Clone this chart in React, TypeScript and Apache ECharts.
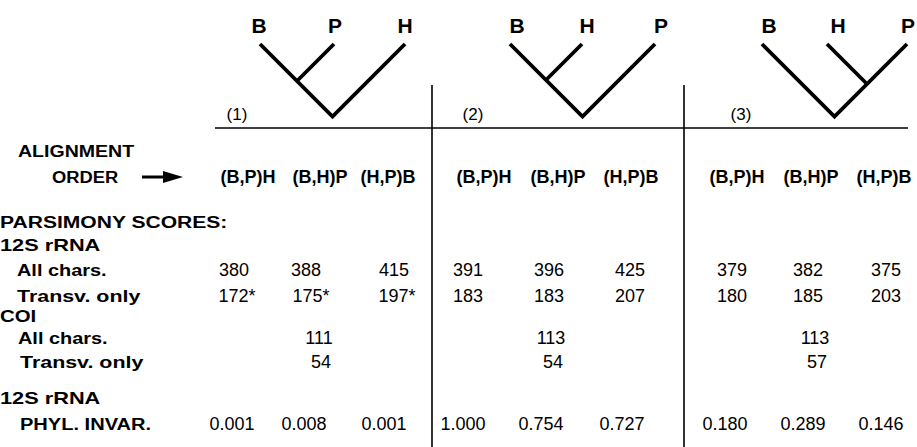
import React, { useEffect, useRef } from "react";
import * as echarts from "echarts";

// ---------- data ----------
const taxaOrders = [
  ["B", "P", "H"],
  ["B", "H", "P"],
  ["B", "H", "P"],
];
const sisterPairs = [
  [0, 1],
  [0, 1],
  [1, 2],
];
const panelNames = ["(1)", "(2)", "(3)"];
const alignmentOrders = ["(B,P)H", "(B,H)P", "(H,P)B"];
const rRNAAllChars = [
  [380, 388, 415],
  [391, 396, 425],
  [379, 382, 375],
];
const rRNATransvOnly = [
  [172, 175, 197],
  [183, 183, 207],
  [180, 185, 203],
];
const rRNATransvStarred = [
  [true, true, true],
  [false, false, false],
  [false, false, false],
];
const coiAllChars = [111, 113, 113];
const coiTransvOnly = [54, 54, 57];
const phylInvar = [
  [0.001, 0.008, 0.001],
  [1.0, 0.754, 0.727],
  [0.18, 0.289, 0.146],
];
const rowLabels = [
  "ALIGNMENT",
  "ORDER",
  "PARSIMONY SCORES:",
  "12S rRNA",
  "All chars.",
  "Transv. only",
  "COI",
  "All chars.",
  "Transv. only",
  "12S rRNA",
  "PHYL. INVAR.",
];

// ---------- layout ----------
const W = 917;
const H = 447;
const tipX = [
  [260, 334, 405],
  [510, 582, 655],
  [762, 827, 907],
];
const tipTop = 44;
const tipLabelX = [
  [259, 335, 405],
  [517, 587, 661],
  [769, 838, 908],
];
const tipLabelY = 25;
const panelLabelX = [237, 473, 741];
const panelLabelY = 114;
const headerX = [
  [248, 320, 388],
  [484, 558, 631],
  [737, 811, 884],
];
const allCharsX = [
  [234, 306, 394],
  [468, 549, 630],
  [732, 808, 886],
];
const transvX = [
  [237, 311, 397],
  [468, 549, 630],
  [732, 808, 886],
];
const coiAllX = [319, 551, 815];
const coiTransvX = [321, 553, 817];
const phylX = [
  [232, 304, 384],
  [463, 541, 622],
  [725, 803, 881],
];
const rowY = [151, 177, 222, 245, 270, 296, 316, 338, 362, 398, 424];
const rowLabelX = [18, 52, 0, 0, 17, 17, 0, 18, 20, 0, 20];
const rowLabelScale = [1.15, 1.08, 1.24, 1.28, 1.17, 1.26, 1.2, 1.17, 1.26, 1.28, 1.18];
const INK = "#000";
const FONT = "'Liberation Sans', Arial, Helvetica, sans-serif";

type Pt = { x: number; y: number; text: string };

function textSeries(id: string, pts: Pt[], fontSize: number, fontWeight: string) {
  return {
    id,
    type: "scatter",
    symbol: "circle",
    symbolSize: 0,
    itemStyle: { color: INK, opacity: 1 },
    silent: true,
    data: pts.map((p) => ({ name: p.text, value: [p.x, p.y] })),
    label: {
      show: true,
      position: "inside",
      formatter: "{b}",
      color: INK,
      opacity: 1,
      fontFamily: FONT,
      fontSize,
      fontWeight,
      textBorderWidth: 0,
    },
    z: 5,
  };
}

function buildOption() {
  const series: any[] = [];

  // cladograms
  taxaOrders.forEach((taxa, t) => {
    const xs = tipX[t];
    const a = xs[0];
    const c = xs[2];
    const root = [(a + c) / 2, tipTop + (c - a) / 2];
    const [i, j] = sisterPairs[t];
    const inner = [(xs[i] + xs[j]) / 2, tipTop + (xs[j] - xs[i]) / 2];
    const mid = xs[1];
    const lineStyle = { color: INK, width: 3.8, cap: "butt", join: "miter" };
    series.push({
      type: "line",
      data: [[a, tipTop], root, [c, tipTop]],
      symbol: "none",
      lineStyle,
      silent: true,
    });
    series.push({
      type: "line",
      data: [[mid, tipTop], inner],
      symbol: "none",
      lineStyle,
      silent: true,
    });
  });

  // taxa labels
  const taxaPts: Pt[] = [];
  taxaOrders.forEach((taxa, t) =>
    taxa.forEach((name, k) => taxaPts.push({ x: tipLabelX[t][k], y: tipLabelY, text: name }))
  );
  series.push(textSeries("taxa", taxaPts, 21, "bold"));

  // panel names
  series.push(
    textSeries(
      "panels",
      panelNames.map((p, t) => ({ x: panelLabelX[t], y: panelLabelY, text: p })),
      17,
      "normal"
    )
  );

  // headers
  const hdr: Pt[] = [];
  for (let t = 0; t < 3; t++)
    alignmentOrders.forEach((o, k) => hdr.push({ x: headerX[t][k], y: rowY[1], text: o }));
  series.push(textSeries("headers", hdr, 18, "bold"));

  // numbers
  const nums: Pt[] = [];
  for (let t = 0; t < 3; t++) {
    for (let k = 0; k < 3; k++) {
      nums.push({ x: allCharsX[t][k], y: rowY[4], text: String(rRNAAllChars[t][k]) });
      const star = rRNATransvStarred[t][k];
      nums.push({
        x: transvX[t][k],
        y: rowY[5],
        text: String(rRNATransvOnly[t][k]) + (star ? "*" : ""),
      });
      nums.push({ x: phylX[t][k], y: rowY[10], text: phylInvar[t][k].toFixed(3) });
    }
    nums.push({ x: coiAllX[t], y: rowY[7], text: String(coiAllChars[t]) });
    nums.push({ x: coiTransvX[t], y: rowY[8], text: String(coiTransvOnly[t]) });
  }
  series.push(textSeries("numbers", nums, 18, "normal"));

  const graphic: any[] = [];
  // rules
  graphic.push({
    type: "line",
    shape: { x1: 215, y1: 128, x2: 908, y2: 128 },
    style: { stroke: INK, lineWidth: 1.6 },
  });
  [432, 684].forEach((x) =>
    graphic.push({
      type: "line",
      shape: { x1: x, y1: 85, x2: x, y2: H },
      style: { stroke: INK, lineWidth: 1.6 },
    })
  );
  // arrow
  graphic.push({
    type: "line",
    shape: { x1: 142, y1: 177, x2: 166, y2: 177 },
    style: { stroke: INK, lineWidth: 3 },
  });
  graphic.push({
    type: "polygon",
    shape: { points: [[163, 171], [183, 177], [163, 183]] },
    style: { fill: INK },
  });
  // row labels
  rowLabels.forEach((txt, r) =>
    graphic.push({
      type: "text",
      x: rowLabelX[r],
      y: rowY[r],
      scaleX: rowLabelScale[r],
      style: {
        text: txt,
        fill: INK,
        font: `bold 17px ${FONT}`,
        align: "left",
        verticalAlign: "middle",
      },
    })
  );

  return {
    animation: false,
    backgroundColor: "#ffffff",
    grid: { left: 0, right: 0, top: 0, bottom: 0 },
    xAxis: { type: "value", min: 0, max: W, show: false },
    yAxis: { type: "value", min: 0, max: H, inverse: true, show: false },
    series,
    graphic,
  };
}

export default function App() {
  const ref = useRef<HTMLDivElement>(null);
  useEffect(() => {
    if (!ref.current) return;
    const chart = echarts.init(ref.current, undefined, { renderer: "svg" });
    chart.setOption(buildOption() as any);
    return () => chart.dispose();
  }, []);
  return (
    <div
      ref={ref}
      style={{ position: "fixed", left: 0, top: 0, width: W, height: H, background: "#fff" }}
    />
  );
}
